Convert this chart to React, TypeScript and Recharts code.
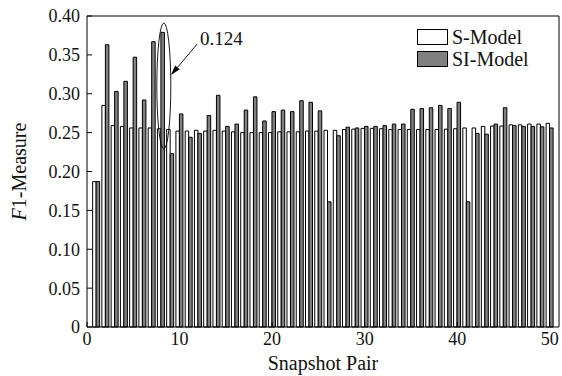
import React from 'react';
import { BarChart, Bar, XAxis, YAxis, Legend, ReferenceDot, Label } from 'recharts';

const pairs = [1, 2, 3, 4, 5, 6, 7, 8, 9, 10, 11, 12, 13, 14, 15, 16, 17, 18, 19, 20, 21, 22, 23, 24, 25, 26, 27, 28, 29, 30, 31, 32, 33, 34, 35, 36, 37, 38, 39, 40, 41, 42, 43, 44, 45, 46, 47, 48, 49, 50];
const sModel = [0.187, 0.285, 0.259, 0.258, 0.256, 0.256, 0.256, 0.255, 0.254, 0.252, 0.252, 0.253, 0.252, 0.253, 0.252, 0.251, 0.25, 0.25, 0.25, 0.25, 0.251, 0.251, 0.251, 0.252, 0.252, 0.253, 0.253, 0.254, 0.2545, 0.2555, 0.2555, 0.255, 0.254, 0.254, 0.254, 0.254, 0.254, 0.254, 0.2545, 0.255, 0.256, 0.256, 0.258, 0.2585, 0.2585, 0.26, 0.26, 0.261, 0.261, 0.262];
const siModel = [0.187, 0.363, 0.303, 0.316, 0.347, 0.292, 0.367, 0.379, 0.223, 0.274, 0.244, 0.249, 0.272, 0.298, 0.258, 0.261, 0.279, 0.296, 0.265, 0.277, 0.279, 0.277, 0.291, 0.289, 0.278, 0.161, 0.246, 0.257, 0.256, 0.258, 0.258, 0.259, 0.261, 0.261, 0.28, 0.281, 0.282, 0.285, 0.281, 0.289, 0.161, 0.249, 0.248, 0.261, 0.282, 0.259, 0.258, 0.258, 0.2575, 0.256];
const xTicks = [0, 10, 20, 30, 40, 50];
const yTicks = [0, 0.05, 0.1, 0.15, 0.2, 0.25, 0.3, 0.35, 0.4];
const seriesNames = ['S-Model', 'SI-Model'];
const annotationText = '0.124';
const xTitle = 'Snapshot Pair';

const data = pairs.map((p, i) => ({ pair: p, s: sModel[i], si: siModel[i] }));

const FONT = "'Liberation Serif', 'Times New Roman', serif";
const INK = '#111';
const GRAY = '#808080';

const renderLegend = () => (
  <div style={{ fontFamily: FONT, fontSize: 20, color: INK }}>
    {[{ name: seriesNames[0], fill: '#fff' }, { name: seriesNames[1], fill: GRAY }].map((e) => (
      <div key={e.name} style={{ display: 'flex', alignItems: 'center', height: 22 }}>
        <span style={{ display: 'inline-block', width: 31, height: 16, boxSizing: 'border-box', border: '1px solid #000', background: e.fill, marginRight: 4 }} />
        <span>{e.name}</span>
      </div>
    ))}
  </div>
);

const yFmt = (v: number) => (v === 0 ? '0' : v.toFixed(2));

export default function App() {
  return (
    <div style={{ position: 'absolute', left: 0, top: 0, width: 562, height: 376, background: '#fff' }}>
      <BarChart
        width={562}
        height={376}
        data={data}
        barGap={0}
        margin={{ top: 15, right: 2, bottom: 19, left: 0 }}
      >
        <XAxis
          dataKey="pair"
          type="number"
          domain={[0, 51]}
          ticks={xTicks}
          interval={0}
          height={30}
          tickSize={-5}
          tickMargin={10}
          stroke="#000"
          tick={{ fill: INK, fontSize: 18, fontFamily: FONT }}
        >
          <Label
            content={(props: any) => {
              const vb = props.viewBox;
              const cx = vb.x + vb.width / 2;
              const cy = vb.y + 36;
              return (
                <text x={cx} y={cy} textAnchor="middle" dominantBaseline="central" fill={INK} fontSize={20} fontFamily={FONT}>
                  {xTitle}
                </text>
              );
            }}
          />
        </XAxis>
        <XAxis
          xAxisId="top"
          orientation="top"
          type="number"
          domain={[0, 51]}
          ticks={xTicks}
          height={1}
          tick={false}
          tickSize={-5}
          stroke="#000"
        />
        <YAxis
          type="number"
          domain={[0, 0.4]}
          ticks={yTicks}
          interval={0}
          width={87}
          tickSize={-5}
          tickMargin={12}
          tickFormatter={yFmt}
          stroke="#000"
          tick={{ fill: INK, fontSize: 18, fontFamily: FONT }}
        >
          <Label
            content={(props: any) => {
              const vb = props.viewBox;
              const cx = vb.x + 19;
              const cy = vb.y + vb.height / 2;
              return (
                <text x={cx} y={cy} transform={`rotate(-90 ${cx} ${cy})`} textAnchor="middle" dominantBaseline="central" fill={INK} fontSize={20} fontFamily={FONT}>
                  <tspan fontStyle="italic">F</tspan>1-Measure
                </text>
              );
            }}
          />
        </YAxis>
        <YAxis
          yAxisId="right"
          orientation="right"
          type="number"
          domain={[0, 0.4]}
          ticks={yTicks}
          width={1}
          tick={false}
          tickSize={-5}
          stroke="#000"
        />
        <Legend
          layout="vertical"
          align="center"
          verticalAlign="middle"
          content={renderLegend}
          wrapperStyle={{ left: 417, top: 26, width: 140, height: 46 }}
        />
        <Bar dataKey="s" name={seriesNames[0]} fill="#fff" stroke="#000" strokeWidth={1} barSize={3.5} isAnimationActive={false} />
        <Bar dataKey="si" name={seriesNames[1]} fill={GRAY} stroke="#000" strokeWidth={1} barSize={3.5} isAnimationActive={false} />
        <ReferenceDot
          x={8.3}
          y={0.31}
          r={0}
          shape={(p: any) => (
            <ellipse cx={p.cx} cy={p.cy} rx={7} ry={63} fill="none" stroke="#000" strokeWidth={0.9} />
          )}
        />
        <ReferenceDot
          x={9.08}
          y={0.324}
          r={0}
          shape={(p: any) => {
            const tx = p.cx + 26;
            const ty = p.cy - 31;
            const dx = p.cx - tx;
            const dy = p.cy - ty;
            const len = Math.sqrt(dx * dx + dy * dy);
            const ux = dx / len;
            const uy = dy / len;
            const bx = p.cx - ux * 10;
            const by = p.cy - uy * 10;
            const px = -uy * 3;
            const py = ux * 3;
            return (
              <g>
                <line x1={tx} y1={ty} x2={bx} y2={by} stroke="#000" strokeWidth={0.9} />
                <polygon points={`${p.cx},${p.cy} ${bx + px},${by + py} ${bx - px},${by - py}`} fill="#000" />
              </g>
            );
          }}
        />
        <ReferenceDot
          x={12.2}
          y={0.371}
          r={0}
          shape={(p: any) => (
            <text x={p.cx} y={p.cy} dominantBaseline="central" fill={INK} fontSize={19} fontFamily={FONT}>
              {annotationText}
            </text>
          )}
        />
      </BarChart>
    </div>
  );
}
